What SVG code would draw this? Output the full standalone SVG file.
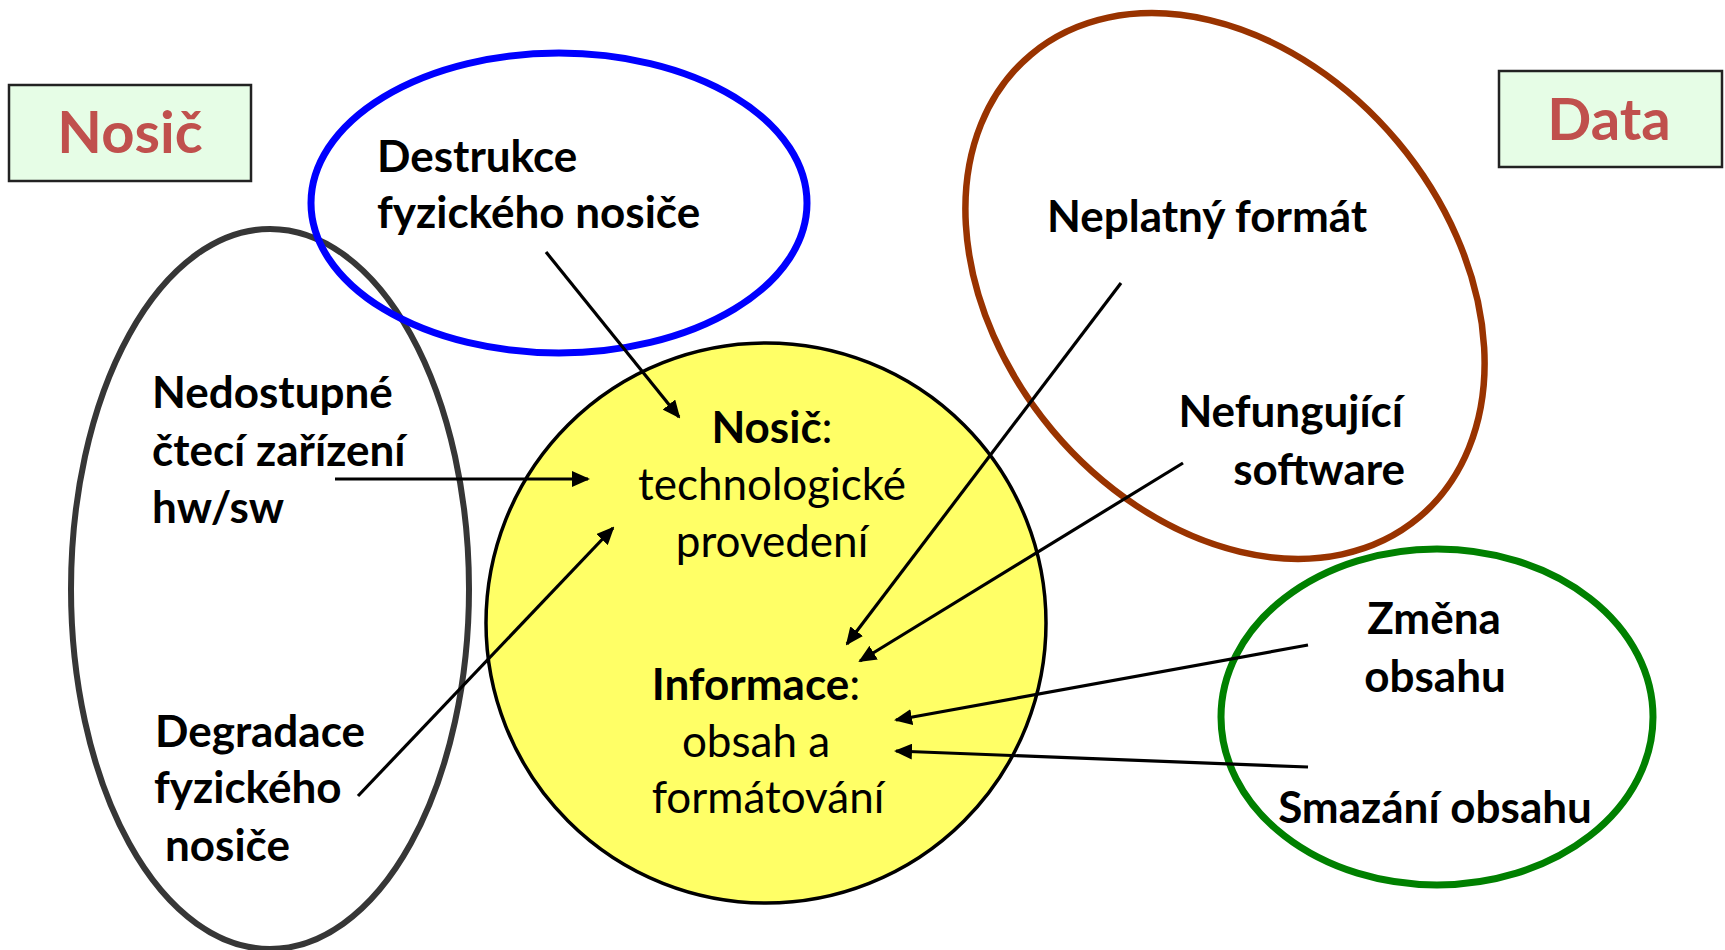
<svg xmlns="http://www.w3.org/2000/svg" width="1725" height="950" viewBox="0 0 1725 950">
  <style>
    .b { font-family: Lato, "Open Sans", "Liberation Sans", sans-serif; font-weight: bold; font-size: 44px; fill: #000; }
    .r { font-family: Lato, "Open Sans", "Liberation Sans", sans-serif; font-weight: normal; font-size: 44px; fill: #000; }
    .title { font-family: Lato, "Open Sans", "Liberation Sans", sans-serif; font-weight: bold; font-size: 58px; fill: #C0504D; text-anchor: middle; }
    .box { fill: #E6FDE6; stroke: #222; stroke-width: 2.5; }
    .conn { stroke: #000; stroke-width: 3.2; fill: none; marker-end: url(#arrow); }
    .mid { text-anchor: middle; }
    .end { text-anchor: end; }
  </style>
  <defs>
    <marker id="arrow" markerUnits="userSpaceOnUse" markerWidth="18" markerHeight="16" viewBox="0 0 18 16" refX="16" refY="8" orient="auto">
      <path d="M0,0 L18,8 L0,16 z" fill="#000"/>
    </marker>
  </defs>
  <rect width="1725" height="950" fill="#fff"/>

  <g id="node-nosic-ellipse">
    <ellipse cx="270" cy="589" rx="199" ry="360" fill="none" stroke="#363636" stroke-width="6"/>
  </g>
  <g id="node-destrukce">
    <ellipse cx="559" cy="203" rx="248" ry="150" fill="none" stroke="#0000FF" stroke-width="7"/>
    <text class="b" x="377" y="172">Destrukce</text>
    <text class="b" x="377" y="228">fyzického nosiče</text>
  </g>
  <g id="node-center">
    <circle cx="766" cy="623" r="280" fill="#FFFF66" stroke="#000" stroke-width="3.5"/>
    <text class="r mid" x="772" y="443"><tspan font-weight="bold">Nosič</tspan>:</text>
    <text class="r mid" x="772" y="500">technologické</text>
    <text class="r mid" x="772" y="557">provedení</text>
    <text class="r mid" x="756" y="700"><tspan font-weight="bold">Informace</tspan>:</text>
    <text class="r mid" x="756" y="757">obsah a</text>
    <text class="r mid" x="768" y="813">formátování</text>
  </g>
  <g id="node-data-ellipse">
    <ellipse cx="0" cy="0" rx="302" ry="225" fill="none" stroke="#993300" stroke-width="6.5" transform="translate(1225 286) rotate(50)"/>
  </g>
  <g id="node-zmena-ellipse">
    <ellipse cx="1437" cy="717" rx="216" ry="168" fill="none" stroke="#008000" stroke-width="7"/>
  </g>

  <g id="node-nosic-box">
    <rect class="box" x="9" y="85" width="242" height="96"/>
    <text class="title" x="130" y="153">Nosič</text>
  </g>
  <g id="node-data-box">
    <rect class="box" x="1499" y="71" width="223" height="96"/>
    <text class="title" x="1609" y="140">Data</text>
  </g>

  <g id="node-nedostupne">
    <text class="b" x="152" y="408">Nedostupné</text>
    <text class="b" x="152" y="466">čtecí zařízení</text>
    <text class="b" x="152" y="523">hw/sw</text>
  </g>
  <g id="node-degradace">
    <text class="b" x="155" y="747">Degradace</text>
    <text class="b" x="154" y="803">fyzického</text>
    <text class="b" x="165" y="861">nosiče</text>
  </g>
  <g id="node-neplatny">
    <text class="b" x="1047" y="232">Neplatný formát</text>
  </g>
  <g id="node-nefungujici">
    <text class="b end" x="1403" y="427">Nefungující</text>
    <text class="b end" x="1405" y="485">software</text>
  </g>
  <g id="node-zmena">
    <text class="b mid" x="1434" y="634">Změna</text>
    <text class="b mid" x="1435" y="692">obsahu</text>
  </g>
  <g id="node-smazani">
    <text class="b mid" x="1435" y="823">Smazání obsahu</text>
  </g>

  <g id="connectors">
    <line class="conn" x1="546" y1="252" x2="679" y2="417"/>
    <line class="conn" x1="335" y1="479" x2="588" y2="479"/>
    <line class="conn" x1="358" y1="796" x2="613" y2="528"/>
    <line class="conn" x1="1121" y1="283" x2="847" y2="644"/>
    <line class="conn" x1="1183" y1="463" x2="860" y2="661"/>
    <line class="conn" x1="1308" y1="645" x2="896" y2="720"/>
    <line class="conn" x1="1308" y1="767" x2="896" y2="751"/>
  </g>
</svg>
